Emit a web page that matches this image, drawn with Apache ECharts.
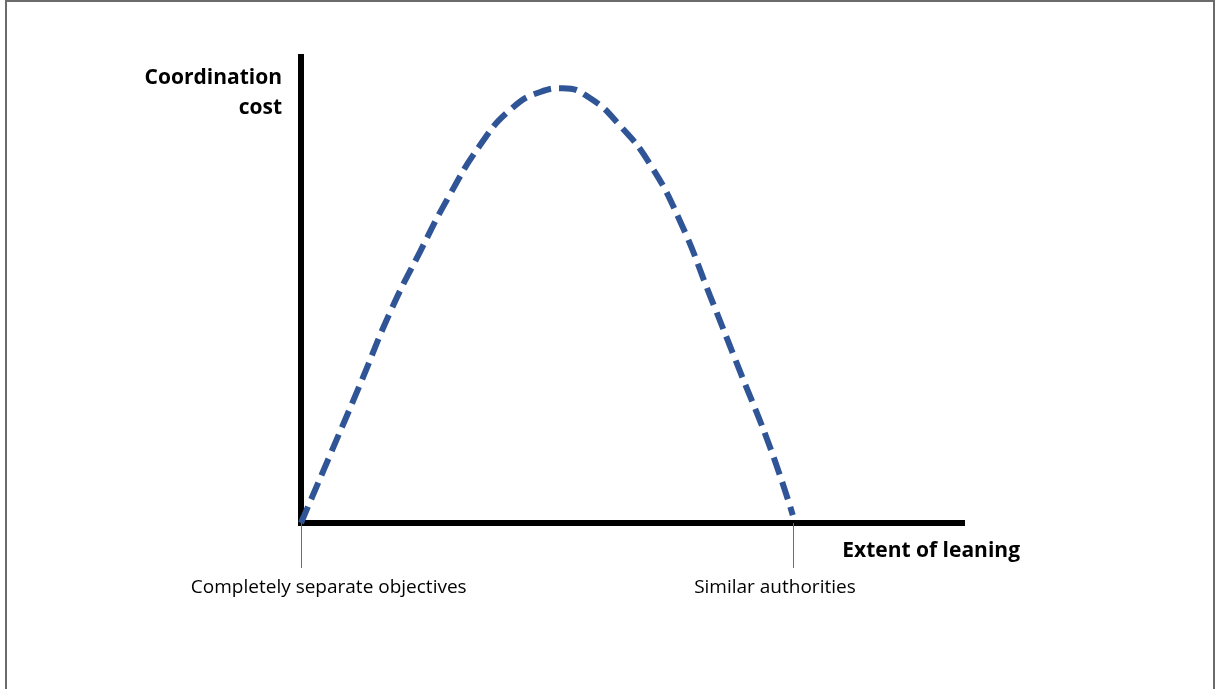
<!DOCTYPE html>
<html>
<head>
<meta charset="utf-8">
<script src="https://cdn.jsdelivr.net/npm/echarts@6/dist/echarts.min.js"></script>
<style>
  html, body { margin: 0; padding: 0; background: #fff; }
  #chart { width: 1216px; height: 689px; }
</style>
</head>
<body>
<div id="chart"></div>
<script>
// curve points (arbitrary units, 0..100 on both axes)
var curveX = [0, 4.4, 8.9, 13.5, 18.0, 22.5, 27.1, 31.6, 36.2, 39.6, 43.7, 48.3, 52.8, 57.4, 61.9, 66.4, 71.0, 74.4];
var curveY = [0, 14.6, 29.6, 45.3, 58.2, 70.4, 81.1, 88.6, 92.5, 93.3, 91.2, 85.2, 77.0, 64.6, 48.7, 32.6, 16.1, 1.7];

// x axis marks and their captions
var tickValues = [0, 74.4];
var labelValues = [4.2, 71.7];
var labelTexts = ['Completely separate objectives', 'Similar authorities'];

var chart = echarts.init(document.getElementById('chart'));

var option = {
    backgroundColor: '#fff',
    animation: false,
    grid: {
        left: 301,
        top: 57,
        right: 254,
        bottom: 166
    },
    xAxis: {
        type: 'value',
        min: 0,
        max: 100,
        name: 'Extent of leaning',
        nameLocation: 'end',
        nameGap: 58,
        nameTextStyle: {
            fontFamily: 'Open Sans',
            fontWeight: 'bold',
            fontSize: 21,
            color: '#000',
            align: 'right',
            verticalAlign: 'top',
            lineHeight: 22,
            padding: [17, 0, 0, 0]
        },
        axisLine: {
            lineStyle: { color: '#000', width: 6, cap: 'square' }
        },
        axisTick: {
            show: true,
            customValues: tickValues,
            length: 45,
            lineStyle: { color: '#4472C4', width: 1 }
        },
        axisLabel: {
            show: true,
            customValues: labelValues,
            margin: 55,
            fontFamily: 'Open Sans',
            fontSize: 19,
            color: '#000',
            formatter: function (v) {
                var i = labelValues.indexOf(v);
                return i >= 0 ? labelTexts[i] : '';
            }
        },
        splitLine: { show: false }
    },
    yAxis: {
        type: 'value',
        min: 0,
        max: 100,
        name: 'Coordination\ncost',
        nameLocation: 'end',
        nameGap: 0,
        nameTextStyle: {
            fontFamily: 'Open Sans',
            fontWeight: 'bold',
            fontSize: 21,
            color: '#000',
            align: 'right',
            verticalAlign: 'top',
            lineHeight: 30,
            padding: [6, 19, 0, 0]
        },
        axisLine: {
            show: true,
            lineStyle: { color: '#000', width: 6, cap: 'square' }
        },
        axisTick: { show: false },
        axisLabel: { show: false },
        splitLine: { show: false }
    },
    graphic: [{
        type: 'rect',
        shape: { x: 6, y: 1, width: 1208, height: 720 },
        style: { fill: 'none', stroke: '#6b6b6b', lineWidth: 2 },
        silent: true
    }],
    series: [{
        type: 'line',
        smooth: true,
        symbol: 'none',
        data: curveX.map(function (x, i) { return [x, curveY[i]]; }),
        lineStyle: {
            color: '#2F5597',
            width: 6,
            type: [18, 8],
            cap: 'butt'
        }
    }]
};

chart.setOption(option);
</script>
</body>
</html>
